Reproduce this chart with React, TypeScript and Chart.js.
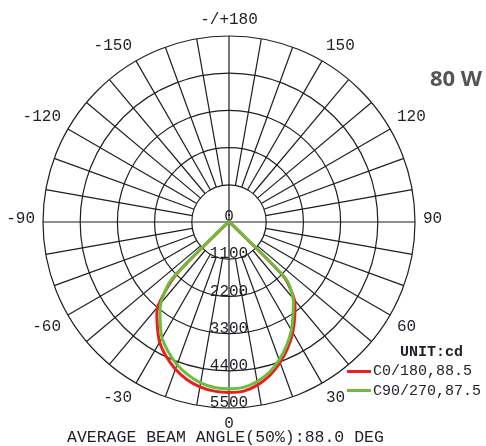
import React, { useEffect, useRef } from "react";
import { Chart, registerables } from "chart.js";

Chart.register(...registerables);

// Spoke angles of the polar grid (degrees), clockwise from the top.
const spokeAngles: number[] = [
  180, 175, 170, 165, 160, 155, 150, 145, 140, 135, 130, 125, 120, 115, 110, 105, 100, 95,
  90, 85, 80, 75, 70, 65, 60, 55, 50, 45, 40, 35, 30, 25, 20, 15, 10, 5,
  0, -5, -10, -15, -20, -25, -30, -35, -40, -45, -50, -55, -60, -65, -70, -75, -80, -85,
  -90, -95, -100, -105, -110, -115, -120, -125, -130, -135, -140, -145, -150, -155, -160, -165, -170, -175,
];

// Angles at which the intensity was measured (lower hemisphere).
const measuredAngles: number[] = [
  -90, -85, -80, -75, -70, -65, -60, -55, -50, -45, -40, -35, -30, -25, -20, -15, -10, -5,
  0, 5, 10, 15, 20, 25, 30, 35, 40, 45, 50, 55, 60, 65, 70, 75, 80, 85, 90,
];

// C0/180 plane intensity (cd)
const c0Values: number[] = [
  0, 0, 0, 0, 0, 0, 0, 0, 150, 2250, 3280, 3700, 4100, 4390, 4630, 4820, 4950, 5020,
  5040, 5020, 4890, 4690, 4420, 4110, 3770, 3390, 3010, 2300, 120, 0, 0, 0, 0, 0, 0, 0, 0,
];

// C90/270 plane intensity (cd)
const c90Values: number[] = [
  0, 0, 0, 0, 0, 0, 0, 0, 250, 2420, 3140, 3550, 3960, 4240, 4490, 4680, 4830, 4910,
  4930, 4910, 4790, 4600, 4340, 4030, 3690, 3300, 2950, 2380, 200, 0, 0, 0, 0, 0, 0, 0, 0,
];

const ringValues: number[] = [0, 1100, 2200, 3300, 4400, 5500];
const angleTickValues: number[] = [180, 150, 120, 90, 60, 30, 0, -30, -60, -90, -120, -150];

const seriesNames: string[] = ["C0/180,88.5", "C90/270,87.5"];
const seriesColors: string[] = ["#e8211f", "#6cbd3f"];

const GRID = "#1e1e1e";
const TEXT = "#1f1f28";
const MONO = '"Liberation Mono", "DejaVu Sans Mono", monospace';

function toSpokes(values: number[]): number[] {
  return spokeAngles.map((a) => {
    const k = measuredAngles.indexOf(a);
    return k >= 0 ? values[k] : 0;
  });
}

const decorPlugin = {
  id: "polarDecor",
  beforeDatasetsDraw(chart: any) {
    const scale = chart.scales.r;
    const ctx = chart.ctx as CanvasRenderingContext2D;
    const R = scale.drawingArea;
    const r1 = scale.getDistanceFromCenterForValue(ringValues[1]);
    ctx.save();
    ctx.strokeStyle = GRID;
    ctx.lineWidth = 1.2;
    spokeAngles.forEach((a, i) => {
      if (a % 10 !== 0) return;
      const axis = a % 90 === 0;
      const p0 = scale.getPointPosition(i, axis ? 0 : r1);
      const p1 = scale.getPointPosition(i, R);
      ctx.beginPath();
      ctx.moveTo(p0.x, p0.y);
      ctx.lineTo(p1.x, p1.y);
      ctx.stroke();
    });

    ctx.fillStyle = TEXT;
    ctx.font = `16px ${MONO}`;
    ctx.textAlign = "center";
    ctx.textBaseline = "middle";
    ringValues.forEach((v) => {
      const d = scale.getDistanceFromCenterForValue(v);
      ctx.fillText(String(v), scale.xCenter, scale.yCenter + d - 5);
    });

    angleTickValues.forEach((a) => {
      const i = spokeAngles.indexOf(a);
      const cw = (i * 360) / spokeAngles.length;
      const p = scale.getPointPosition(i, R + 8);
      const text = a === 180 ? "-/+180" : String(a);
      let align: CanvasTextAlign = "center";
      if (cw > 0 && cw < 180) align = "left";
      else if (cw > 180) align = "right";
      let y = p.y;
      if (cw === 90 || cw === 270) y = p.y - 3;
      else if (cw < 90 || cw > 270) y = p.y - 8;
      else y = p.y + 8;
      ctx.textAlign = align;
      ctx.fillText(text, p.x, y);
    });
    ctx.restore();
  },
};

export default function App() {
  const ref = useRef<HTMLCanvasElement>(null);

  useEffect(() => {
    const chart = new Chart(ref.current as HTMLCanvasElement, {
      type: "radar",
      data: {
        labels: spokeAngles.map(String),
        datasets: [
          {
            label: seriesNames[1],
            data: toSpokes(c90Values),
            borderColor: seriesColors[1],
            backgroundColor: seriesColors[1],
            borderWidth: 3,
            pointRadius: 0,
            fill: false,
            tension: 0.25,
            order: 0,
          },
          {
            label: seriesNames[0],
            data: toSpokes(c0Values),
            borderColor: seriesColors[0],
            backgroundColor: seriesColors[0],
            borderWidth: 3,
            pointRadius: 0,
            fill: false,
            tension: 0.25,
            order: 1,
          },
        ],
      },
      options: {
        responsive: false,
        animation: false,
        layout: { padding: { left: 43, right: 71, top: 36, bottom: 38 } },
        plugins: { legend: { display: false }, tooltip: { enabled: false } },
        scales: {
          r: {
            min: 0,
            max: 5500,
            ticks: { stepSize: 1100, display: false },
            grid: { circular: true, color: GRID, lineWidth: 1.2 },
            angleLines: { display: false },
            pointLabels: { display: false },
          },
        },
      },
      plugins: [decorPlugin],
    });
    return () => chart.destroy();
  }, []);

  const legendText: React.CSSProperties = {
    position: "absolute",
    font: `15px ${MONO}`,
    lineHeight: 1,
    color: TEXT,
    whiteSpace: "nowrap",
  };

  return (
    <div
      style={{
        position: "absolute",
        left: 0,
        top: 0,
        width: 486,
        height: 446,
        background: "#fff",
        overflow: "hidden",
      }}
    >
      <canvas ref={ref} width={486} height={446} style={{ display: "block" }} />
      <div
        style={{
          position: "absolute",
          left: 430,
          top: 66,
          font: 'bold 22px "Open Sans", Roboto, sans-serif',
          lineHeight: 1,
          color: "#555",
          whiteSpace: "nowrap",
        }}
      >
        80 W
      </div>
      <div style={{ ...legendText, left: 400, top: 345, fontWeight: "bold" }}>UNIT:cd</div>
      <div style={{ position: "absolute", left: 347, top: 370, width: 24, height: 3, background: seriesColors[0] }} />
      <div style={{ ...legendText, left: 373, top: 364 }}>{seriesNames[0]}</div>
      <div style={{ position: "absolute", left: 347, top: 389, width: 24, height: 3, background: seriesColors[1] }} />
      <div style={{ ...legendText, left: 373, top: 384 }}>{seriesNames[1]}</div>
      <div
        style={{
          position: "absolute",
          left: 67,
          top: 430,
          font: `16.5px ${MONO}`,
          lineHeight: 1,
          color: TEXT,
          whiteSpace: "nowrap",
        }}
      >
        AVERAGE BEAM ANGLE(50%):88.0 DEG
      </div>
    </div>
  );
}
